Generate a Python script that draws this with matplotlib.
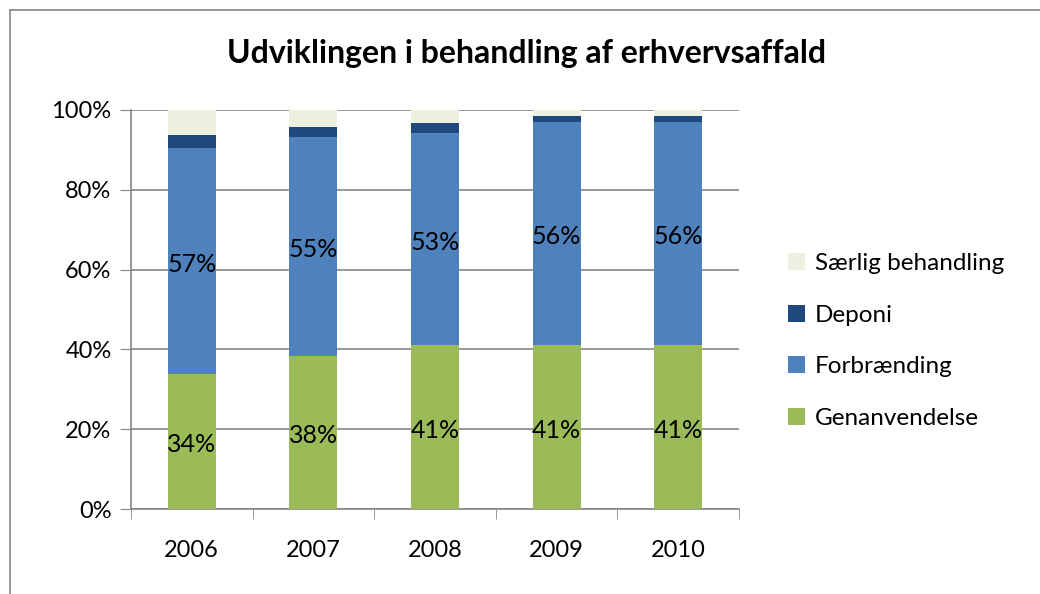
import matplotlib.pyplot as plt
import numpy as np
from matplotlib.lines import Line2D

years = ['2006', '2007', '2008', '2009', '2010']
genanvendelse = [33.9, 38.3, 41.0, 41.0, 41.0]
forbraending = [56.6, 54.9, 53.3, 56.0, 56.0]
deponi = [3.3, 2.6, 2.5, 1.6, 1.6]
saerlig = [6.2, 4.2, 3.2, 1.4, 1.4]

series = [
    ('Genanvendelse', genanvendelse, '#9bbb59'),
    ('Forbrænding', forbraending, '#4f81bd'),
    ('Deponi', deponi, '#1f497d'),
    ('Særlig behandling', saerlig, '#ebf1de'),
]
# only these get a data label
labelled = ['Genanvendelse', 'Forbrænding']

plt.rcParams['font.family'] = ['Lato', 'DejaVu Sans']
font_size = 17

fig = plt.figure(figsize=(10.4, 5.94), dpi=100)
ax = fig.add_axes([131 / 1040, 1 - 509 / 594, 608 / 1040, 399 / 594])

x = np.arange(len(years))
bottom = np.zeros(len(years))
handles = []
for name, vals, color in series:
    vals = np.array(vals)
    bars = ax.bar(x, vals, 0.395, bottom=bottom, color=color, label=name, zorder=3)
    handles.append(bars)
    if name in labelled:
        for xi, b, v in zip(x, bottom, vals):
            ax.text(xi, b + v / 2 - 0.8, f'{round(v):.0f}%', ha='center', va='center',
                    fontsize=font_size + 1, color='black', zorder=4)
    bottom += vals

ax.set_xlim(-0.5, len(years) - 0.5)
ax.set_ylim(0, 100)
ax.set_yticks(range(0, 101, 20))
ax.set_yticklabels([f'{v}%' for v in range(0, 101, 20)], fontsize=font_size)
ax.set_xticks(x)
ax.set_xticklabels(years, fontsize=font_size)
ax.set_xticks(np.arange(-0.5, len(years), 1), minor=True)
ax.tick_params(axis='x', which='major', length=0, pad=22)
ax.tick_params(axis='x', which='minor', length=7, color='#868686')
ax.tick_params(axis='y', length=8, color='#868686', pad=6)
ax.grid(axis='y', color='#868686', linewidth=1.2, zorder=0)
for side in ['top', 'right']:
    ax.spines[side].set_visible(False)
for side in ['left', 'bottom']:
    ax.spines[side].set_color('#868686')
    ax.spines[side].set_linewidth(1.2)

fig.text(527 / 1040, 1 - 53 / 594, 'Udviklingen i behandling af erhvervsaffald',
         ha='center', va='center', fontsize=23, fontweight='bold')

leg = fig.legend(handles[::-1], [s[0] for s in series][::-1], loc='center left',
                 bbox_to_anchor=(766 / 1040, 1 - 341 / 594), frameon=False,
                 fontsize=17.5, handlelength=0.7, handleheight=0.7,
                 handletextpad=0.4, labelspacing=1.25)

# outer chart border (only left and top edges are visible)
fig.add_artist(Line2D([10 / 1040, 10 / 1040], [0, 1 - 10 / 594], color='#868686', lw=1.2))
fig.add_artist(Line2D([10 / 1040, 1], [1 - 10 / 594, 1 - 10 / 594], color='#868686', lw=1.2))

fig.savefig('out.png', dpi=100)
